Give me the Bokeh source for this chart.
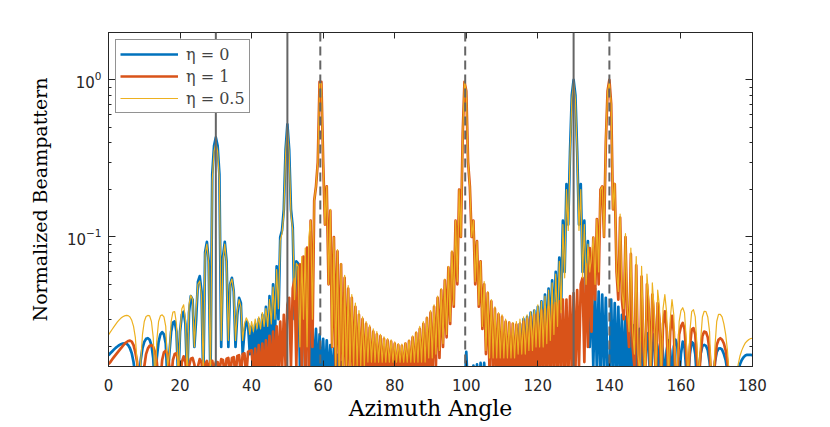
import numpy as np
from bokeh.plotting import figure
from bokeh.models import (Range1d, FixedTicker, LinearAxis, LogAxis, Span,
                          Legend, LegendItem, CustomJSTickFormatter)
from bokeh.embed import file_html
from bokeh.resources import INLINE

# ---------------- data ----------------
STEP = 0.5  # azimuth sampling of the typed values (degrees)

x_ticks = [0, 20, 40, 60, 80, 100, 120, 140, 160, 180]
y_major = [0.1, 1.0]
y_minor = [0.02, 0.03, 0.04, 0.05, 0.06, 0.07, 0.08, 0.09,
           0.2, 0.3, 0.4, 0.5, 0.6, 0.7, 0.8, 0.9, 2.0]

true_angles = [30, 50, 130]        # solid vertical lines
est_angles = [59.2, 99.7, 140]     # dashed vertical lines

labels = ["η = 0", "η = 1", "η = 0.5"]

# eta = 0 (blue)
blue_000 = [0.0177, 0.0182, 0.0187, 0.0192, 0.0197, 0.0201, 0.0205, 0.0208, 0.021, 0.0211,
            0.021, 0.0205, 0.0196, 0.0182, 0.016, 0.013, 0.008, 0.012, 0.0165, 0.0196,
            0.0215, 0.0225, 0.0227, 0.0222, 0.0205, 0.017, 0.01, 0.017, 0.0215, 0.024,
            0.0248, 0.024, 0.021, 0.012, 0.018, 0.025, 0.0285, 0.029, 0.025, 0.012]
blue_020 = [0.025, 0.032, 0.0335, 0.028, 0.012, 0.033, 0.042, 0.04, 0.02, 0.03,
            0.052, 0.0564, 0.045, 0.012, 0.08, 0.093, 0.07, 0.012, 0.25, 0.38,
            0.43, 0.38, 0.25, 0.02, 0.075, 0.093, 0.07, 0.02, 0.05, 0.055,
            0.045, 0.02, 0.032, 0.041, 0.038, 0.018, 0.025, 0.029, 0.028, 0.018]
blue_040 = [0.027, 0.016, 0.028, 0.016, 0.03, 0.017, 0.032, 0.017, 0.036, 0.018,
            0.042, 0.019, 0.05, 0.022, 0.065, 0.03, 0.1, 0.11, 0.15, 0.36,
            0.52, 0.36, 0.15, 0.115, 0.03, 0.07, 0.068, 0.015, 0.05, 0.045,
            0.012, 0.039, 0.035, 0.012, 0.028, 0.012, 0.026, 0.012, 0.024, 0.012]
blue_060 = [0.0225, 0.012, 0.022, 0.012, 0.0205, 0.012, 0.0195, 0.012, 0.0178, 0.012,
            0.016, 0.012, 0.01, 0.01, 0.01, 0.01, 0.01, 0.01, 0.01, 0.01,
            0.01, 0.01, 0.01, 0.01, 0.01, 0.01, 0.01, 0.01, 0.01, 0.01,
            0.01, 0.01, 0.01, 0.01, 0.01, 0.01, 0.01, 0.01, 0.01, 0.01]
blue_080 = [0.01, 0.01, 0.01, 0.01, 0.01, 0.01, 0.01, 0.01, 0.01, 0.01,
            0.01, 0.01, 0.01, 0.01, 0.01, 0.01, 0.01, 0.01, 0.01, 0.01,
            0.01, 0.01, 0.01, 0.01, 0.01, 0.01, 0.01, 0.01, 0.01, 0.01,
            0.01, 0.01, 0.01, 0.01, 0.01, 0.01, 0.01, 0.01, 0.01, 0.01]
blue_100 = [0.0186, 0.01, 0.01, 0.01, 0.0152, 0.01, 0.0155, 0.01, 0.0158, 0.01,
            0.0158, 0.01, 0.01, 0.01, 0.01, 0.01, 0.01, 0.01, 0.01, 0.01,
            0.0158, 0.01, 0.012, 0.01, 0.018, 0.01, 0.022, 0.012, 0.026, 0.014,
            0.028, 0.015, 0.03, 0.016, 0.031, 0.016, 0.033, 0.017, 0.034, 0.018]
blue_120 = [0.036, 0.018, 0.039, 0.019, 0.043, 0.02, 0.047, 0.022, 0.053, 0.025,
            0.06, 0.03, 0.074, 0.035, 0.127, 0.06, 0.217, 0.12, 0.35, 0.8,
            1.0, 0.8, 0.35, 0.12, 0.217, 0.06, 0.127, 0.04, 0.094, 0.02,
            0.05, 0.015, 0.047, 0.014, 0.045, 0.013, 0.043, 0.013, 0.041, 0.013]
blue_140 = [0.012, 0.04, 0.012, 0.038, 0.012, 0.036, 0.012, 0.032, 0.012, 0.031,
            0.012, 0.029, 0.012, 0.0275, 0.012, 0.0265, 0.012, 0.026, 0.02, 0.012,
            0.02, 0.0245, 0.018, 0.012, 0.018, 0.024, 0.018, 0.012, 0.02, 0.0227,
            0.018, 0.012, 0.019, 0.022, 0.019, 0.012, 0.02, 0.0222, 0.02, 0.012]
blue_160 = [0.018, 0.0216, 0.02, 0.014, 0.012, 0.018, 0.0215, 0.021, 0.018, 0.012,
            0.014, 0.018, 0.0203, 0.0206, 0.0203, 0.019, 0.016, 0.012, 0.012, 0.016,
            0.0185, 0.0195, 0.0196, 0.0192, 0.018, 0.0165, 0.014, 0.012, 0.01, 0.008,
            0.01, 0.012, 0.014, 0.0155, 0.0165, 0.0172, 0.0176, 0.0178, 0.0178, 0.0178,
            0.0177]

# eta = 1 (orange)
orange_000 = [0.0155, 0.016, 0.0166, 0.0172, 0.0178, 0.0184, 0.019, 0.0196, 0.0203, 0.0209,
              0.0214, 0.0218, 0.0219, 0.0216, 0.0205, 0.0185, 0.016, 0.012, 0.01, 0.012,
              0.015, 0.018, 0.0195, 0.0203, 0.0205, 0.02, 0.0185, 0.016, 0.012, 0.012,
              0.0165, 0.0185, 0.0189, 0.018, 0.015, 0.012, 0.0165, 0.018, 0.0182, 0.0165]
orange_020 = [0.012, 0.016, 0.0174, 0.016, 0.012, 0.015, 0.0168, 0.017, 0.0155, 0.012,
              0.015, 0.0167, 0.016, 0.012, 0.0155, 0.0163, 0.014, 0.0162, 0.0163, 0.014,
              0.016, 0.016, 0.014, 0.0167, 0.0165, 0.013, 0.0168, 0.017, 0.013, 0.017,
              0.0172, 0.013, 0.0175, 0.0177, 0.013, 0.018, 0.0182, 0.013, 0.0186, 0.0188]
orange_040 = [0.019, 0.013, 0.0195, 0.013, 0.0205, 0.013, 0.021, 0.013, 0.022, 0.013,
              0.0235, 0.013, 0.025, 0.013, 0.027, 0.013, 0.029, 0.014, 0.032, 0.015,
              0.037, 0.041, 0.015, 0.047, 0.054, 0.015, 0.06, 0.067, 0.015, 0.075,
              0.012, 0.0855, 0.012, 0.127, 0.02, 0.17, 0.21, 0.3, 0.97, 0.97]
orange_060 = [0.3, 0.12, 0.21, 0.05, 0.147, 0.02, 0.1, 0.015, 0.081, 0.012,
              0.067, 0.012, 0.055, 0.012, 0.047, 0.012, 0.041, 0.012, 0.036, 0.012,
              0.032, 0.012, 0.03, 0.012, 0.028, 0.012, 0.0265, 0.012, 0.025, 0.012,
              0.024, 0.012, 0.0234, 0.012, 0.0225, 0.012, 0.022, 0.012, 0.0216, 0.012]
orange_080 = [0.021, 0.012, 0.0205, 0.012, 0.0203, 0.012, 0.021, 0.012, 0.0218, 0.012,
              0.023, 0.012, 0.0245, 0.012, 0.026, 0.012, 0.028, 0.012, 0.0305, 0.012,
              0.033, 0.012, 0.036, 0.015, 0.041, 0.017, 0.046, 0.02, 0.053, 0.023,
              0.064, 0.028, 0.08, 0.036, 0.127, 0.05, 0.2, 0.1, 0.45, 0.97]
orange_100 = [0.85, 0.3, 0.21, 0.1, 0.127, 0.05, 0.094, 0.036, 0.07, 0.026,
              0.05, 0.018, 0.044, 0.014, 0.039, 0.012, 0.035, 0.012, 0.0322, 0.012,
              0.031, 0.012, 0.029, 0.012, 0.0285, 0.012, 0.028, 0.012, 0.0277, 0.012,
              0.028, 0.012, 0.029, 0.012, 0.03, 0.012, 0.031, 0.012, 0.032, 0.012]
orange_120 = [0.033, 0.012, 0.034, 0.012, 0.035, 0.012, 0.036, 0.012, 0.037, 0.012,
              0.038, 0.012, 0.039, 0.012, 0.04, 0.012, 0.04, 0.012, 0.042, 0.013,
              0.044, 0.014, 0.046, 0.015, 0.05, 0.055, 0.016, 0.067, 0.02, 0.085,
              0.025, 0.099, 0.04, 0.13, 0.05, 0.2, 0.21, 0.1, 0.4, 0.85]
orange_140 = [1.0, 0.7, 0.15, 0.217, 0.06, 0.04, 0.133, 0.04, 0.03, 0.1,
              0.03, 0.02, 0.078, 0.02, 0.015, 0.066, 0.015, 0.012, 0.056, 0.02,
              0.012, 0.05, 0.035, 0.012, 0.043, 0.03, 0.012, 0.038, 0.03, 0.012,
              0.028, 0.0337, 0.026, 0.012, 0.025, 0.0315, 0.025, 0.012, 0.012, 0.024]
orange_160 = [0.027, 0.0284, 0.026, 0.018, 0.012, 0.02, 0.0258, 0.0263, 0.024, 0.016,
              0.012, 0.018, 0.0235, 0.025, 0.0248, 0.023, 0.019, 0.012, 0.01, 0.016,
              0.0205, 0.0222, 0.0227, 0.0222, 0.021, 0.019, 0.016, 0.012, 0.01, 0.008,
              0.01, 0.012, 0.013, 0.0135, 0.014, 0.014, 0.014, 0.0138, 0.0135, 0.0133,
              0.0132]

# eta = 0.5 (yellow)
yellow_000 = [0.0238, 0.0248, 0.0258, 0.0268, 0.0278, 0.0288, 0.0297, 0.0305, 0.0311, 0.0315,
              0.0317, 0.0316, 0.031, 0.0295, 0.027, 0.023, 0.016, 0.01, 0.016, 0.024,
              0.029, 0.0312, 0.0317, 0.0315, 0.029, 0.023, 0.012, 0.022, 0.029, 0.0315,
              0.032, 0.031, 0.027, 0.015, 0.018, 0.029, 0.0333, 0.0335, 0.028, 0.012]
yellow_020 = [0.025, 0.035, 0.037, 0.03, 0.012, 0.037, 0.0426, 0.04, 0.02, 0.035,
              0.05, 0.0525, 0.042, 0.013, 0.078, 0.09, 0.068, 0.012, 0.23, 0.35,
              0.4, 0.35, 0.23, 0.022, 0.072, 0.09, 0.068, 0.022, 0.05, 0.054,
              0.045, 0.022, 0.034, 0.04, 0.036, 0.022, 0.028, 0.0306, 0.029, 0.024]
yellow_040 = [0.029, 0.025, 0.03, 0.026, 0.031, 0.026, 0.033, 0.027, 0.035, 0.027,
              0.04, 0.028, 0.048, 0.03, 0.062, 0.035, 0.095, 0.105, 0.14, 0.34,
              0.5, 0.34, 0.14, 0.11, 0.04, 0.068, 0.065, 0.02, 0.075, 0.03,
              0.085, 0.02, 0.1, 0.127, 0.03, 0.17, 0.21, 0.3, 0.95, 0.95]
yellow_060 = [0.3, 0.12, 0.21, 0.05, 0.15, 0.02, 0.1, 0.015, 0.083, 0.012,
              0.068, 0.012, 0.057, 0.013, 0.049, 0.014, 0.043, 0.015, 0.038, 0.015,
              0.034, 0.015, 0.031, 0.015, 0.029, 0.016, 0.0275, 0.016, 0.026, 0.016,
              0.025, 0.016, 0.024, 0.016, 0.0232, 0.016, 0.0226, 0.016, 0.0222, 0.016]
yellow_080 = [0.0215, 0.016, 0.021, 0.016, 0.0208, 0.016, 0.0213, 0.016, 0.0222, 0.016,
              0.0235, 0.016, 0.025, 0.016, 0.027, 0.016, 0.029, 0.016, 0.031, 0.017,
              0.034, 0.017, 0.037, 0.018, 0.042, 0.019, 0.047, 0.021, 0.054, 0.024,
              0.065, 0.029, 0.082, 0.037, 0.127, 0.052, 0.2, 0.1, 0.45, 0.97]
yellow_100 = [0.85, 0.3, 0.21, 0.1, 0.127, 0.052, 0.094, 0.037, 0.07, 0.027,
              0.052, 0.019, 0.045, 0.017, 0.04, 0.017, 0.036, 0.017, 0.033, 0.017,
              0.032, 0.017, 0.03, 0.017, 0.029, 0.017, 0.0285, 0.017, 0.029, 0.018,
              0.03, 0.018, 0.031, 0.018, 0.032, 0.019, 0.0335, 0.019, 0.0345, 0.02]
yellow_120 = [0.037, 0.02, 0.039, 0.02, 0.042, 0.021, 0.046, 0.022, 0.051, 0.024,
              0.058, 0.027, 0.07, 0.033, 0.12, 0.055, 0.2, 0.11, 0.33, 0.75,
              0.97, 0.75, 0.33, 0.11, 0.2, 0.055, 0.12, 0.05, 0.09, 0.06,
              0.075, 0.1, 0.05, 0.13, 0.06, 0.2, 0.21, 0.1, 0.42, 0.85]
yellow_140 = [0.97, 0.7, 0.15, 0.22, 0.06, 0.045, 0.14, 0.045, 0.035, 0.105,
              0.035, 0.025, 0.085, 0.025, 0.018, 0.075, 0.018, 0.013, 0.065, 0.025,
              0.012, 0.058, 0.04, 0.012, 0.051, 0.035, 0.012, 0.046, 0.036, 0.012,
              0.035, 0.043, 0.033, 0.012, 0.03, 0.04, 0.032, 0.012, 0.014, 0.029]
yellow_160 = [0.034, 0.0355, 0.033, 0.022, 0.012, 0.025, 0.0335, 0.0345, 0.031, 0.02,
              0.012, 0.022, 0.031, 0.0337, 0.0335, 0.031, 0.025, 0.012, 0.01, 0.02,
              0.029, 0.0322, 0.0322, 0.031, 0.028, 0.024, 0.019, 0.013, 0.009, 0.007,
              0.01, 0.013, 0.0155, 0.0175, 0.019, 0.0202, 0.0212, 0.0218, 0.0223, 0.0226,
              0.0227]

chunk_starts = [0, 20, 40, 60, 80, 100, 120, 140, 160]
blue_chunks = [blue_000, blue_020, blue_040, blue_060, blue_080,
               blue_100, blue_120, blue_140, blue_160]
orange_chunks = [orange_000, orange_020, orange_040, orange_060, orange_080,
                 orange_100, orange_120, orange_140, orange_160]
yellow_chunks = [yellow_000, yellow_020, yellow_040, yellow_060, yellow_080,
                 yellow_100, yellow_120, yellow_140, yellow_160]


def assemble(chunks):
    xs, ys = [], []
    for start, vals in zip(chunk_starts, chunks):
        xs.extend(start + STEP * i for i in range(len(vals)))
        ys.extend(vals)
    return xs, ys


bx, by = assemble(blue_chunks)
ox, oy = assemble(orange_chunks)
yx, yy = assemble(yellow_chunks)

# ---------------- figure ----------------
AX = "#262626"
p = figure(width=830, height=427, x_range=Range1d(0, 180), y_range=Range1d(0.015, 2.0),
           y_axis_type="log", output_backend="svg", toolbar_location=None,
           min_border_left=108, min_border_right=78, min_border_top=32, min_border_bottom=61)
p.xgrid.grid_line_color = None
p.ygrid.grid_line_color = None
p.outline_line_color = AX
p.outline_line_width = 1
p.background_fill_color = "white"
p.border_fill_color = "white"

xa = p.xaxis[0]
xa.ticker = FixedTicker(ticks=x_ticks)
xa.major_tick_in = 6
xa.major_tick_out = 0
xa.minor_tick_line_color = None
xa.axis_line_color = AX
xa.major_tick_line_color = AX
xa.major_label_text_font = "DejaVu Sans"
xa.major_label_text_font_size = "15px"
xa.major_label_text_color = AX
xa.major_label_standoff = 12
xa.axis_label = "Azimuth Angle"
xa.axis_label_text_font = "DejaVu Serif"
xa.axis_label_text_font_size = "22px"
xa.axis_label_text_font_style = "normal"
xa.axis_label_text_color = "black"
xa.axis_label_standoff = 2

ya = p.yaxis[0]
ya.ticker = FixedTicker(ticks=y_major, minor_ticks=y_minor)
ya.major_tick_in = 7
ya.major_tick_out = 0
ya.minor_tick_in = 3
ya.minor_tick_out = 0
ya.axis_line_color = AX
ya.major_tick_line_color = AX
ya.minor_tick_line_color = AX
ya.major_label_text_font = "DejaVu Sans"
ya.major_label_text_font_size = "15px"
ya.major_label_text_color = AX
ya.major_label_standoff = 7
ya.axis_label = "Normalized Beampattern"
ya.axis_label_text_font = "DejaVu Serif"
ya.axis_label_text_font_size = "19px"
ya.axis_label_text_font_style = "normal"
ya.axis_label_text_color = "black"
ya.axis_label_standoff = 13

blank = CustomJSTickFormatter(code="return ''")
top = LinearAxis(ticker=FixedTicker(ticks=x_ticks), formatter=blank,
                 major_tick_in=6, major_tick_out=0, minor_tick_line_color=None,
                 axis_line_color=AX, major_tick_line_color=AX,
                 major_label_text_font_size="1px")
right = LogAxis(ticker=FixedTicker(ticks=y_major, minor_ticks=y_minor), formatter=blank,
                major_tick_in=7, major_tick_out=0, minor_tick_in=3, minor_tick_out=0,
                axis_line_color=AX, major_tick_line_color=AX, minor_tick_line_color=AX,
                major_label_text_font_size="1px")
p.add_layout(top, "above")
p.add_layout(right, "right")

rb = p.line(bx, by, line_color="#0072BD", line_width=2.7, line_join="round")
ro = p.line(ox, oy, line_color="#D95319", line_width=2.7, line_join="round")
ry = p.line(yx, yy, line_color="#EDB120", line_width=1.2, line_join="round")

for a in true_angles:
    p.add_layout(Span(location=a, dimension="height", line_color="#656565", line_width=2))
for a in est_angles:
    p.add_layout(Span(location=a, dimension="height", line_color="#656565", line_width=2,
                      line_dash="9 5"))

legend = Legend(items=[LegendItem(label=labels[0], renderers=[rb]),
                       LegendItem(label=labels[1], renderers=[ro]),
                       LegendItem(label=labels[2], renderers=[ry])],
                location="top_left", margin=7, padding=4, spacing=2,
                glyph_width=58, glyph_height=20, label_height=20, label_standoff=8,
                label_text_font="DejaVu Serif", label_text_font_size="16px",
                border_line_color=AX, border_line_width=1,
                background_fill_color="white", background_fill_alpha=1.0)
p.add_layout(legend)

open("out.html", "w").write(file_html(p, INLINE))
